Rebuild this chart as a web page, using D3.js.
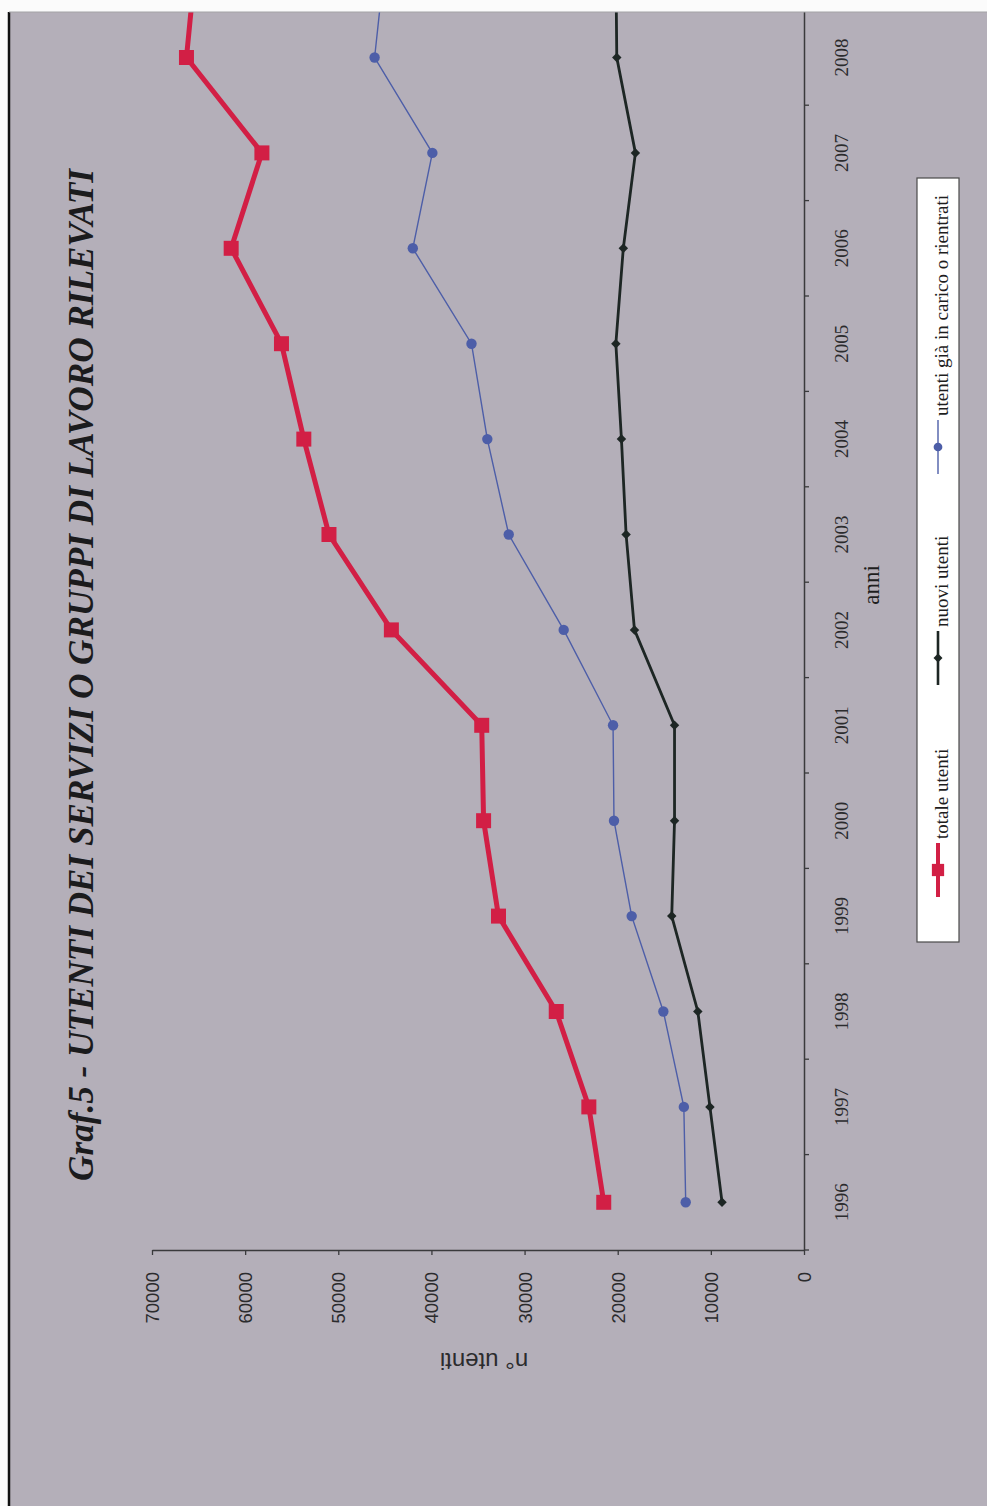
<!DOCTYPE html>
<html>
<head>
<meta charset="utf-8">
<script src="https://cdn.jsdelivr.net/npm/d3@7"></script>
<style>
  html, body { margin: 0; padding: 0; background: #fbfbfb; }
  svg { display: block; }
</style>
</head>
<body>
<svg id="chart" width="987" height="1506"></svg>
<script>
// ---- data ----
const years = ["1996", "1997", "1998", "1999", "2000", "2001", "2002",
               "2003", "2004", "2005", "2006", "2007", "2008", "2009"];
const totaleUtenti = [21500, 23100, 26600, 32800, 34400, 34600, 44300,
                      51000, 53700, 56100, 61500, 58200, 66300, 65300];
const nuoviUtenti  = [8800, 10100, 11400, 14200, 13900, 13900, 18200,
                      19100, 19600, 20200, 19400, 18100, 20100, 20200];
const utentiGia    = [12700, 12900, 15100, 18500, 20400, 20500, 25800,
                      31700, 34000, 35700, 42000, 39900, 46100, 45000];
const valueTicks = [0, 10000, 20000, 30000, 40000, 50000, 60000, 70000];
const seriesNames = ["totale utenti", "nuovi utenti", "utenti già in carico o rientrati"];
const titleText = "Graf.5 - UTENTI DEI SERVIZI O GRUPPI DI LAVORO RILEVATI";
const categoryTitle = "anni";
const valueTitle = "n° utenti";

// ---- page setup (the chart is laid out turned a quarter turn: years run upward) ----
const W = 987, H = 1506;
const svg = d3.select("#chart");
const frameLeft = 9, frameTop = 12;

svg.append("rect").attr("width", W).attr("height", H).attr("fill", "#fbfbfb");
svg.append("defs").append("clipPath").attr("id", "frame")
  .append("rect").attr("x", frameLeft).attr("y", frameTop)
  .attr("width", W - frameLeft).attr("height", H - frameTop);

const root = svg.append("g").attr("clip-path", "url(#frame)");
root.append("rect").attr("x", frameLeft).attr("y", frameTop)
  .attr("width", W).attr("height", H).attr("fill", "#b4afb9");

// ---- scales ----
const axisBase = 1250;      // page y of the value axis
const bandStep = 95.4;      // one year on the category axis
const x = d3.scaleLinear().domain([0, 70000]).range([804, 152]);
const y = d3.scaleBand().domain(years)
  .range([axisBase, axisBase - bandStep * years.length])
  .paddingInner(0).paddingOuter(0);
const cy = d => y(d) + y.bandwidth() / 2;

const axisColor = "#3a3a3c";

// ---- value axis (horizontal on the page) ----
const gx = root.append("g")
  .attr("transform", `translate(0,${axisBase})`)
  .call(d3.axisBottom(x).tickValues(valueTicks).tickSize(5).tickSizeOuter(0)
        .tickFormat(d3.format("d")));
gx.attr("font-family", "'Liberation Sans', Arial, sans-serif").attr("font-size", 18.5);
gx.select(".domain").attr("stroke", axisColor).attr("stroke-width", 1.5);
gx.selectAll(".tick line").attr("stroke", axisColor).attr("stroke-width", 1.3);
gx.selectAll(".tick text")
  .attr("transform", "rotate(-90)")
  .attr("x", -22).attr("y", 0).attr("dy", "0.35em")
  .attr("text-anchor", "end")
  .attr("fill", "#2b2b2d");

// ---- category axis (vertical on the page) ----
const gy = root.append("g")
  .attr("transform", `translate(${x(0)},0)`)
  .call(d3.axisRight(y).tickSize(0).tickSizeOuter(0));
gy.attr("font-family", "'Liberation Serif', 'Times New Roman', serif").attr("font-size", 19);
gy.select(".domain").attr("stroke", axisColor).attr("stroke-width", 1.5);
gy.selectAll(".tick text")
  .attr("transform", "rotate(-90)")
  .attr("x", 0).attr("y", 44).attr("dy", 0)
  .attr("text-anchor", "middle")
  .attr("fill", "#2b2b2d");
// years whose label would fall beyond the top edge of the frame are not labelled
gy.selectAll(".tick").filter(d => cy(d) < frameTop + 20).select("text").remove();
// tick marks sit between the years
const bandEdges = years.map(d => y(d)).concat([y(years[0]) + y.bandwidth()]);
gy.selectAll("line.edge").data(bandEdges).join("line")
  .attr("class", "edge")
  .attr("x1", 0).attr("x2", 5)
  .attr("y1", d => d).attr("y2", d => d)
  .attr("stroke", axisColor).attr("stroke-width", 1.3);

// ---- series ----
const series = [
  { name: seriesNames[0], values: totaleUtenti, color: "#d21f45", width: 5,
    symbol: d3.symbolSquare, size: 225, rotate: 0 },
  { name: seriesNames[2], values: utentiGia, color: "#4d5ea8", width: 1.4,
    symbol: d3.symbolCircle, size: 85, rotate: 0 },
  { name: seriesNames[1], values: nuoviUtenti, color: "#1d2624", width: 2.8,
    symbol: d3.symbolSquare, size: 45, rotate: 45 }
];

const line = d3.line()
  .x(d => x(d.v))
  .y(d => cy(d.year));

const plot = root.append("g");
series.forEach(s => {
  const pts = s.values.map((v, i) => ({ v, year: years[i] }));
  plot.append("path")
    .datum(pts)
    .attr("d", line)
    .attr("fill", "none")
    .attr("stroke", s.color)
    .attr("stroke-width", s.width)
    .attr("stroke-linejoin", "miter");
  plot.selectAll(null).data(pts).join("path")
    .attr("transform", d => `translate(${x(d.v)},${cy(d.year)}) rotate(${s.rotate})`)
    .attr("d", d3.symbol(s.symbol, s.size))
    .attr("fill", s.color);
});

// ---- legend ----
const legend = root.append("g");
legend.append("rect")
  .attr("x", 917).attr("y", 178).attr("width", 42).attr("height", 764)
  .attr("fill", "#ffffff").attr("stroke", "#4a4a4a").attr("stroke-width", 1.2);

const legendItems = [
  { name: seriesNames[0], color: "#d21f45", width: 4, symbol: d3.symbolSquare, size: 150, rotate: 0, at: 870 },
  { name: seriesNames[1], color: "#1d2624", width: 2.6, symbol: d3.symbolSquare, size: 40, rotate: 45, at: 658 },
  { name: seriesNames[2], color: "#4d5ea8", width: 1.4, symbol: d3.symbolCircle, size: 60, rotate: 0, at: 447 }
];
const li = legend.selectAll("g.item").data(legendItems).join("g").attr("class", "item");
li.append("line")
  .attr("x1", 938).attr("x2", 938)
  .attr("y1", d => d.at + 27).attr("y2", d => d.at - 27)
  .attr("stroke", d => d.color).attr("stroke-width", d => d.width);
li.append("path")
  .attr("transform", d => `translate(938,${d.at}) rotate(${d.rotate})`)
  .attr("d", d => d3.symbol(d.symbol, d.size)())
  .attr("fill", d => d.color);
li.append("text")
  .attr("transform", d => `translate(948,${d.at - 31}) rotate(-90)`)
  .attr("text-anchor", "start")
  .attr("font-family", "'Liberation Serif', 'Times New Roman', serif")
  .attr("font-size", 19)
  .attr("fill", "#1e1e1e")
  .text(d => d.name);

// ---- titles ----
const title = root.append("text")
  .attr("transform", "translate(93,675) rotate(-90)")
  .attr("text-anchor", "middle")
  .attr("font-family", "'Liberation Serif', 'Times New Roman', serif")
  .attr("font-weight", "bold")
  .attr("font-style", "italic")
  .attr("font-size", 30)
  .attr("fill", "#1b1b1d")
  .text(titleText);
const tLen = title.node().getComputedTextLength();
if (tLen > 0) title.attr("font-size", 30 * 1012 / tLen);

root.append("text")
  .attr("transform", "translate(879,585) rotate(-90)")
  .attr("text-anchor", "middle")
  .attr("font-family", "'Liberation Serif', 'Times New Roman', serif")
  .attr("font-size", 23)
  .attr("fill", "#1e1e1e")
  .text(categoryTitle);

root.append("text")
  .attr("transform", "translate(484,1353) rotate(180)")
  .attr("text-anchor", "middle")
  .attr("font-family", "'Liberation Sans', Arial, sans-serif")
  .attr("font-size", 24)
  .attr("fill", "#2b2b2d")
  .text(valueTitle);

// ---- frame edges ----
svg.append("line")
  .attr("x1", frameLeft).attr("x2", frameLeft)
  .attr("y1", frameTop).attr("y2", H)
  .attr("stroke", "#111").attr("stroke-width", 2.5);
svg.append("line")
  .attr("x1", frameLeft).attr("x2", W)
  .attr("y1", frameTop).attr("y2", frameTop)
  .attr("stroke", "#a3a3a6").attr("stroke-width", 1);
</script>
</body>
</html>
